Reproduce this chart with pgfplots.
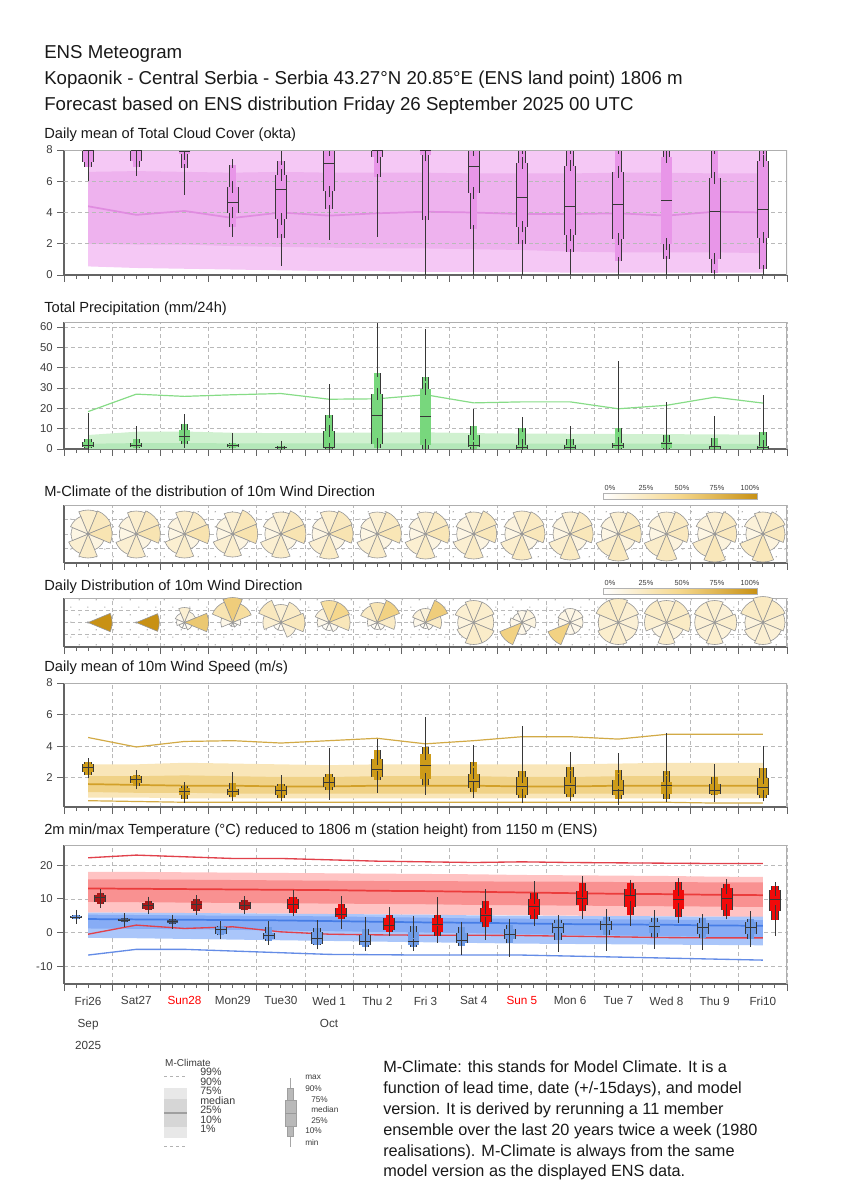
\documentclass[border=0pt]{standalone}
\usepackage{pgfplots}
\pgfplotsset{compat=1.18}
\usepackage{pgfplotstable}
\usetikzlibrary{patterns}
\usepackage{fontspec}
\setmainfont{Liberation Sans}

\definecolor{axgray}{RGB}{100,100,100}
\definecolor{framegray}{RGB}{175,175,175}
\definecolor{gridgray}{RGB}{185,185,185}
\definecolor{boxedge}{RGB}{55,55,55}
\definecolor{ticktxt}{RGB}{60,60,60}
\definecolor{txt}{RGB}{25,25,25}
\definecolor{dotgray}{RGB}{150,150,150}
\definecolor{rosedge}{RGB}{150,150,150}
\definecolor{cloudA}{RGB}{245,200,245}
\definecolor{cloudB}{RGB}{238,178,238}
\definecolor{cloudM}{RGB}{224,140,224}
\definecolor{cloudBox}{RGB}{232,150,232}
\definecolor{precA}{RGB}{208,241,208}
\definecolor{precB}{RGB}{180,232,185}
\definecolor{precL}{RGB}{135,220,135}
\definecolor{precBox}{RGB}{120,215,125}
\definecolor{windA}{RGB}{249,230,185}
\definecolor{windB}{RGB}{240,210,135}
\definecolor{windM}{RGB}{210,160,40}
\definecolor{windL}{RGB}{210,170,70}
\definecolor{windBox}{RGB}{205,155,25}
\definecolor{redA}{RGB}{255,195,195}
\definecolor{redB}{RGB}{249,145,145}
\definecolor{redM}{RGB}{235,60,60}
\definecolor{redL}{RGB}{225,65,75}
\definecolor{redBox}{RGB}{240,10,10}
\definecolor{redDark}{RGB}{170,25,25}
\definecolor{blueA}{RGB}{170,198,250}
\definecolor{blueB}{RGB}{135,172,245}
\definecolor{blueM}{RGB}{70,125,230}
\definecolor{blueL}{RGB}{100,140,230}
\definecolor{blueBox}{RGB}{110,155,230}
\definecolor{blueDark}{RGB}{65,85,125}
\definecolor{roseHi}{RGB}{200,145,20}
\definecolor{roseMid}{RGB}{245,215,140}

\pgfdeclareplotmark{empty}{}
\pgfdeclarepatternformonly{sparsedots}{\pgfqpoint{-1pt}{-1pt}}{\pgfqpoint{12pt}{10pt}}{\pgfqpoint{13pt}{11pt}}{%
  \pgfpathcircle{\pgfqpoint{2pt}{2pt}}{0.5pt}%
  \pgfpathcircle{\pgfqpoint{8.5pt}{7.5pt}}{0.5pt}%
  \pgfusepath{fill}}

\pgfplotsset{
  met/.style={
    scale only axis, width=542.25pt, anchor=south west,
    xmin=0, xmax=15, xtick={0,...,15}, xticklabels={}, minor x tick num=3,
    tick align=outside, tick pos=left,
    major tick length=5pt, minor tick length=3pt,
    tick style={draw=axgray, line width=0.7pt},
    axis x line*=bottom, axis y line*=left,
    axis line style={draw=axgray, line width=1.1pt},
    grid style={draw=gridgray, dash pattern=on 3pt off 2.2pt, line width=0.5pt},
    yticklabel style={font=\fontsize{8.5}{10}\selectfont, text=ticktxt},
    /pgf/number format/assume math mode=true,
  },
  rosepanel/.style={met, ymin=-1, ymax=1, ytick={-0.5,0,0.5}, yticklabels={},
    ytick style={draw=none}, xmajorgrids, ymajorgrids,
    axis background/.style={pattern=sparsedots, pattern color=dotgray},
    point meta min=0, point meta max=1},
}
\newcommand\frametr{\draw[framegray, line width=1.4pt] (rel axis cs:0,1) -- (rel axis cs:1,1) -- (rel axis cs:1,0);}

% ENS boxes drawn with error bars: #1 table, #2 fill, #3 x offset, #4 narrow width, #5 wide width (pt), #6 extra options
\newcommand\enbox[6]{%
  \addplot[only marks, mark=empty, #6, error bars/.cd, y dir=both, y explicit, error mark=none,
    error bar style={draw=boxedge, line width=0.55pt}]
    table[x expr=\coordindex+#3, y=med, y error plus expr=\thisrow{max}-\thisrow{med}, y error minus expr=\thisrow{med}-\thisrow{min}] {#1};
  \addplot[only marks, mark=empty, #6, error bars/.cd, y dir=both, y explicit, error mark=none,
    error bar style={draw=boxedge, line width=#4pt+0.55pt}]
    table[x expr=\coordindex+#3, y expr=0.5*\thisrow{q10}+0.5*\thisrow{q90}, y error expr=0.5*\thisrow{q90}-0.5*\thisrow{q10}] {#1};
  \addplot[only marks, mark=empty, #6, error bars/.cd, y dir=both, y explicit, error mark=-,
    error mark options={draw=boxedge, line width=0.55pt, mark size=#4pt/2+0.27pt},
    error bar style={draw=#2, line width=#4pt-0.55pt}]
    table[x expr=\coordindex+#3, y expr=0.5*\thisrow{q10}+0.5*\thisrow{q90}, y error expr=0.5*\thisrow{q90}-0.5*\thisrow{q10}] {#1};
  \addplot[only marks, mark=empty, #6, error bars/.cd, y dir=both, y explicit, error mark=none,
    error bar style={draw=boxedge, line width=#5pt+0.55pt}]
    table[x expr=\coordindex+#3, y expr=0.5*\thisrow{q25}+0.5*\thisrow{q75}, y error expr=0.5*\thisrow{q75}-0.5*\thisrow{q25}] {#1};
  \addplot[only marks, mark=empty, #6, error bars/.cd, y dir=both, y explicit, error mark=-,
    error mark options={draw=boxedge, line width=0.55pt, mark size=#5pt/2+0.27pt},
    error bar style={draw=#2, line width=#5pt-0.55pt}]
    table[x expr=\coordindex+#3, y expr=0.5*\thisrow{q25}+0.5*\thisrow{q75}, y error expr=0.5*\thisrow{q75}-0.5*\thisrow{q25}] {#1};
  \addplot[only marks, mark=-, mark size=#5pt/2, mark options={draw=boxedge, line width=0.55pt}, #6]
    table[x expr=\coordindex+#3, y=med] {#1};
}

% wind roses: one scatter plot per sector k (0=N,1=NE,...)
\newcommand\roses[1]{%
  \pgfplotsinvokeforeach{0,1,2,3,4,5,6,7}{%
    \addplot[scatter, only marks, mark=empty,
      point meta=\thisrow{f##1},
      visualization depends on={\thisrow{r##1} \as \rad},
      scatter/@pre marker code/.code={%
        \begingroup
        \pgfkeys{/pgf/fpu=false}%
        \pgfmathsetmacro\fv{\pgfplotspointmetatransformed/1000}%
        \pgfmathsetmacro\pa{min(100,100*\fv/0.3)}%
        \pgfmathsetmacro\pb{max(0,100*(\fv-0.3)/0.7)}%
        \pgfmathsetmacro\rr{\rad*0.75}%
        \colorlet{wedgetmp}{roseMid!\pa!white}%
        \colorlet{wedgecol}{roseHi!\pb!wedgetmp}%
        \filldraw[fill=wedgecol, draw=rosedge, line width=0.45pt]
          (0pt,0pt) -- ({67.5-45*##1}:\rr pt) arc[start angle={67.5-45*##1}, delta angle=45, radius=\rr pt] -- cycle;
        \endgroup},
      scatter/@post marker code/.code={}]
      table[x=x, y expr=0] {#1};
  }}

% ---------------- data ----------------
\pgfplotstableread{
min q10 q25 med q75 q90 max
6.0 6.9 7.25 7.95 8 8 8
6.35 6.9 7.3 7.95 8 8 8
5.15 6.85 7.75 7.9 8 8 8
2.45 3.05 4.0 4.65 5.65 7.05 7.4
0.55 2.4 3.6 5.45 6.4 7.3 8
2.25 4.25 5.35 7.15 8 8 8
2.45 6.25 7.55 7.95 8 8 8
0 3.55 7.65 7.95 8 8 8
0 2.95 5.25 6.95 8 8 8
0 2.0 3.1 4.95 7.15 8 8
0 1.45 2.55 4.4 7.0 8 8
0 0.9 2.3 4.55 6.6 8 8
0 1.0 2.0 4.75 7.55 8 8
0 0.1 1.05 4.05 6.2 8 8
0 0.4 2.4 4.2 7.3 8 8
}\cloudT

\pgfplotstableread{
x med
0.5 4.4
1.5 3.85
2.5 4.1
3.5 3.65
4.5 4.0
5.5 3.8
6.5 3.95
7.5 4.05
8.5 4.0
9.5 3.9
10.5 3.9
11.5 3.95
12.5 3.8
13.5 4.05
14.5 4.0
}\cloudC

\pgfplotstableread{
min q10 q25 med q75 q90 max
0 0.3 0.8 2.0 3.3 4.9 17.6
0 0.3 1.0 1.8 3.0 4.9 11.5
1.3 2.3 4.1 6.1 9.4 12.4 17.3
0 0.5 1.0 1.8 2.5 3.1 7.7
0 0.1 0.3 0.6 1.2 1.6 2.1
0 0 0.3 0.9 8.7 16.8 32.1
0 0.7 2.5 16.8 27.0 37.4 65
0 0 2.0 16.0 29.5 35.4 59.3
0 0.1 0.8 2.0 7.1 11.5 19.8
0 0 0.2 1.0 2.0 10.2 15.6
0 0 0.2 1.0 1.8 4.9 11.4
0 0 0.5 1.8 2.8 10.2 43.5
0 0 0.5 3.0 3.6 7.1 23.2
0 0 0.2 1.2 1.6 5.3 16.0
0 0 0.2 1.0 1.5 8.6 26.5
}\precT

\pgfplotstableread{
x p99
0.5 18.4
1.5 27.0
2.5 25.9
3.5 26.7
4.5 27.3
5.5 24.5
6.5 24.7
7.5 26.7
8.5 22.7
9.5 23.2
10.5 23.2
11.5 19.8
12.5 21.5
13.5 25.5
14.5 22.6
}\precC

\pgfplotstableread{
x r0 r1 r2 r3 r4 r5 r6 r7 f0 f1 f2 f3 f4 f5 f6 f7
0.5 24 25 24 17 24 21 17 19 .13 .17 .2 .08 .14 .12 .07 .09
1.5 23 25 24 16 24 22 17 19 .13 .17 .2 .08 .14 .12 .07 .09
2.5 23 24 25 16 24 21 16 18 .13 .16 .21 .08 .14 .12 .07 .09
3.5 22 26 25 17 23 21 16 18 .12 .18 .21 .08 .13 .12 .07 .09
4.5 22 25 25 17 24 22 16 19 .12 .17 .2 .08 .14 .12 .07 .09
5.5 23 25 24 17 25 22 17 18 .13 .17 .2 .08 .15 .12 .07 .09
6.5 22 24 24 16 24 22 17 18 .12 .16 .19 .08 .14 .12 .07 .09
7.5 22 24 24 17 25 22 16 18 .12 .16 .19 .08 .15 .12 .07 .09
8.5 22 25 23 17 25 22 17 19 .12 .17 .18 .08 .15 .12 .07 .09
9.5 23 24 23 17 26 23 17 19 .13 .16 .18 .08 .16 .13 .07 .09
10.5 22 24 23 18 26 23 17 19 .12 .16 .18 .09 .16 .13 .07 .09
11.5 22 24 23 18 27 24 17 19 .12 .16 .18 .09 .17 .14 .07 .09
12.5 22 24 22 18 27 24 17 20 .12 .16 .17 .09 .17 .14 .07 .1
13.5 22 24 22 18 28 24 17 20 .12 .16 .17 .09 .18 .14 .07 .1
14.5 22 24 22 18 28 25 17 20 .12 .16 .17 .09 .18 .15 .07 .1
}\mclimT

\pgfplotstableread{
x r0 r1 r2 r3 r4 r5 r6 r7 f0 f1 f2 f3 f4 f5 f6 f7
0.5 0.4 0.4 24 0.4 0.4 0.4 0.4 0.4 0 0 1 0 0 0 0 0
1.5 0.4 0.4 23 0.4 0.4 0.4 0.4 0.4 0 0 1 0 0 0 0 0
2.5 15 12 24 8 6 6 8 10 .12 .08 .45 .04 .02 .02 .03 .05
3.5 25 20 8 5 4 4 12 22 .4 .25 .04 .02 .02 .02 .06 .2
4.5 18 22 24 16 8 8 18 24 .12 .15 .18 .1 .03 .03 .12 .17
5.5 22 22 21 10 8 8 12 15 .25 .3 .18 .05 .03 .03 .06 .1
6.5 20 24 18 8 7 7 10 18 .2 .35 .15 .04 .03 .03 .05 .15
7.5 14 24 16 8 6 6 12 14 .1 .4 .15 .04 .03 .03 .06 .1
8.5 22 22 20 22 22 18 16 20 .13 .13 .12 .14 .14 .1 .09 .12
9.5 12 14 14 10 12 24 12 10 .06 .08 .08 .05 .06 .35 .06 .05
10.5 14 14 13 12 12 24 12 13 .07 .07 .07 .06 .06 .35 .06 .07
11.5 24 22 20 20 22 22 20 24 .15 .12 .11 .11 .13 .13 .11 .15
12.5 22 24 24 18 22 16 22 24 .13 .15 .15 .1 .13 .07 .12 .15
13.5 22 20 22 18 22 20 20 22 .13 .11 .13 .1 .13 .11 .11 .13
14.5 26 24 22 20 22 20 18 24 .16 .15 .12 .11 .12 .11 .09 .15
}\dailyT

\pgfplotstableread{
min q10 q25 med q75 q90 max
2.04 2.2 2.35 2.63 2.88 2.98 3.13
1.3 1.5 1.68 1.87 2.1 2.18 2.46
0.42 0.67 0.88 1.13 1.34 1.5 1.76
0.6 0.76 0.92 1.13 1.3 1.68 2.35
0.57 0.73 0.88 1.2 1.45 1.62 2.18
0.57 1.2 1.4 1.72 2.04 2.25 3.89
1.05 1.83 2.04 2.56 3.19 3.76 4.45
0.92 1.55 1.93 2.77 3.5 3.93 5.86
0.71 1.13 1.34 1.79 2.27 2.98 4.1
0.42 0.71 0.92 1.45 2.04 2.4 5.3
0.57 0.78 0.99 1.51 2.04 2.71 3.61
0.29 0.67 0.92 1.2 1.87 2.52 3.57
0.46 0.67 0.99 1.55 1.72 2.4 4.81
0.46 0.88 0.99 1.2 1.62 2.04 2.86
0.57 0.73 0.88 1.41 1.97 2.6 4.03
}\windT

\pgfplotstableread{
x p1 med p99
0.5 0.55 1.6 4.55
1.5 0.5 1.55 3.95
2.5 0.45 1.5 4.3
3.5 0.45 1.5 4.35
4.5 0.45 1.45 4.2
5.5 0.45 1.45 4.35
6.5 0.45 1.5 4.5
7.5 0.45 1.5 4.15
8.5 0.45 1.5 4.35
9.5 0.45 1.45 4.6
10.5 0.45 1.45 4.6
11.5 0.45 1.5 4.45
12.5 0.45 1.5 4.75
13.5 0.4 1.5 4.75
14.5 0.4 1.5 4.75
}\windC

\pgfplotstableread{
min q10 q25 med q75 q90 max
4.0 4.1 4.3 4.65 5.0 5.2 5.3
3.0 3.1 3.3 3.7 4.0 4.3 4.4
1.0 2.6 2.8 3.2 3.6 3.9 4.1
-2.0 -0.8 -0.3 1.0 1.6 2.0 2.7
-3.6 -2.6 -1.8 -0.8 0.0 1.7 3.4
-4.0 -3.8 -3.3 -1.8 0.2 1.2 3.7
-5.0 -4.3 -3.8 -2.6 -0.8 1.0 4.5
-5.0 -4.2 -3.8 -2.5 0.2 1.8 5.0
-6.8 -4.0 -3.0 -2.2 0.0 1.5 3.0
-7.3 -3.2 -1.8 -0.5 1.0 2.2 4.0
-5.9 -2.3 -0.1 1.4 2.7 3.7 5.1
-5.5 -0.8 0.7 2.4 3.4 4.7 7.1
-4.8 -1.3 0.0 1.7 3.2 4.4 6.6
-5.2 -1.6 -0.3 1.4 2.7 4.2 5.6
-4.3 -2.0 -0.3 1.4 3.0 4.0 6.3
}\tminT

\pgfplotstableread{
min q10 q25 med q75 q90 max
8.1 8.6 9.1 10.3 11.1 11.6 12.6
5.6 6.6 7.1 8.1 8.9 9.3 9.9
5.3 6.3 7.1 8.3 9.3 9.9 10.6
6.1 6.7 7.1 8.1 9.1 9.6 10.9
5.0 5.9 7.1 8.3 9.9 10.6 12.6
1.0 4.0 4.5 5.5 7.2 8.5 10.8
-1.0 0.2 0.7 2.0 4.2 5.2 7.5
-3.0 -1.0 0.2 2.5 4.2 5.2 10.5
-2.2 1.5 3.0 5.0 7.2 9.5 13.0
2.0 3.9 5.3 7.8 10.1 11.6 15.2
4.0 6.3 8.1 10.1 12.3 14.6 16.8
2.0 5.3 7.6 10.9 12.9 14.6 15.5
2.7 4.7 6.9 9.9 12.6 15.0 15.8
4.2 5.0 6.6 10.1 13.3 14.3 15.8
-1.0 3.7 6.3 9.9 12.6 13.9 15.0
}\tmaxT

\pgfplotstableread{
x p1 med p99
0.5 -0.5 13.1 22.2
1.5 2.2 13.0 23.0
2.5 1.2 12.9 22.5
3.5 1.7 12.8 22.0
4.5 0.2 12.7 22.0
5.5 -0.5 12.6 21.6
6.5 -0.7 12.4 21.2
7.5 -0.8 12.3 21.0
8.5 -0.8 12.1 20.8
9.5 -0.9 11.9 21.0
10.5 -1.1 11.7 20.8
11.5 -1.3 11.5 20.7
12.5 -1.5 11.4 20.6
13.5 -1.6 11.2 20.5
14.5 -1.6 11.1 20.5
}\tmaxC

\pgfplotstableread{
x p1 med
0.5 -6.7 4.0
1.5 -5.0 3.9
2.5 -5.0 3.8
3.5 -5.5 3.7
4.5 -6.0 3.6
5.5 -6.5 3.4
6.5 -6.6 3.2
7.5 -6.7 3.0
8.5 -6.7 2.9
9.5 -6.7 2.7
10.5 -7.0 2.5
11.5 -7.3 2.4
12.5 -7.6 2.3
13.5 -7.9 2.1
14.5 -8.2 2.0
}\tminC

\pgfplotstableread{
x y
0 2
15 2
}\hgA
\pgfplotstableread{
x y
0 4
15 4
}\hgB
\pgfplotstableread{
x y
0 6
15 6
}\hgC

\begin{document}
\begin{tikzpicture}
\path[use as bounding box] (0,0) rectangle (637.5pt,-897.75pt);

% titles
\begin{scope}[every node/.style={anchor=base west, inner sep=0pt, text=txt}]
\node[font=\fontsize{14}{17}\selectfont] at (33pt,-44pt) {ENS Meteogram};
\node[font=\fontsize{14}{17}\selectfont] at (33pt,-63pt) {Kopaonik - Central Serbia - Serbia 43.27°N 20.85°E (ENS land point) 1806 m};
\node[font=\fontsize{14}{17}\selectfont] at (33pt,-82.5pt) {Forecast based on ENS distribution Friday 26 September 2025 00 UTC};
\node[font=\fontsize{11}{13}\selectfont] at (33pt,-103.5pt) {Daily mean of Total Cloud Cover (okta)};
\node[font=\fontsize{11}{13}\selectfont] at (33pt,-234pt) {Total Precipitation (mm/24h)};
\node[font=\fontsize{11}{13}\selectfont] at (33pt,-372pt) {M-Climate of the distribution of 10m Wind Direction};
\node[font=\fontsize{11}{13}\selectfont] at (33pt,-442.5pt) {Daily Distribution of 10m Wind Direction};
\node[font=\fontsize{11}{13}\selectfont] at (33pt,-503.25pt) {Daily mean of 10m Wind Speed (m/s)};
\node[font=\fontsize{11}{13}\selectfont] at (33pt,-625.5pt) {2m min/max Temperature (°C) reduced to 1806 m (station height) from 1150 m (ENS)};
\end{scope}

% ---------- cloud cover ----------
\begin{axis}[met, at={(48pt,-206.25pt)}, height=93.75pt, ymin=0, ymax=8, ytick={0,2,4,6,8}]
\addplot[fill=cloudA, draw=none] coordinates {(0.5,8) (14.5,8) (14.5,0.15) (13.5,0.15) (12.5,0.15) (11.5,0.15) (10.5,0.15) (9.5,0.2) (8.5,0.2) (7.5,0.2) (6.5,0.25) (5.5,0.25) (4.5,0.3) (3.5,0.35) (2.5,0.4) (1.5,0.45) (0.5,0.55)};
\addplot[fill=cloudB, draw=none] coordinates {(0.5,6.6) (1.5,6.65) (2.5,6.6) (3.5,6.55) (4.5,6.6) (5.5,6.55) (6.5,6.55) (7.5,6.55) (8.5,6.5) (9.5,6.5) (10.5,6.5) (11.5,6.55) (12.5,6.55) (13.5,6.5) (14.5,6.5) (14.5,1.4) (13.5,1.45) (12.5,1.45) (11.5,1.45) (10.5,1.5) (9.5,1.6) (8.5,1.65) (7.5,1.7) (6.5,1.7) (5.5,1.75) (4.5,1.8) (3.5,1.85) (2.5,1.95) (1.5,1.95) (0.5,2.0)};
\addplot[gridgray, dash pattern=on 3pt off 2.2pt, line width=0.5pt] table {\hgA};
\addplot[gridgray, dash pattern=on 3pt off 2.2pt, line width=0.5pt] table {\hgB};
\addplot[gridgray, dash pattern=on 3pt off 2.2pt, line width=0.5pt] table {\hgC};
\addplot[cloudM, line width=1.3pt] table[x=x,y=med]{\cloudC};
\enbox{\cloudT}{cloudBox}{0.5}{4.9}{8.25}{}
\frametr
\end{axis}

% ---------- precipitation ----------
\begin{axis}[met, at={(48pt,-336.75pt)}, height=95.25pt, ymin=0, ymax=62.5, ytick={0,10,...,60}, xmajorgrids, ymajorgrids]
\addplot[fill=precA, draw=none] coordinates {(0.5,6.9) (1.5,8.5) (2.5,8.6) (3.5,8.0) (4.5,7.8) (5.5,8.0) (6.5,8.1) (7.5,8.2) (8.5,7.8) (9.5,7.6) (10.5,7.5) (11.5,7.4) (12.5,7.3) (13.5,7.2) (14.5,7.0) (14.5,0) (0.5,0)};
\addplot[fill=precB, draw=none] coordinates {(0.5,2.6) (1.5,2.9) (2.5,2.9) (3.5,2.8) (4.5,2.8) (5.5,2.8) (6.5,2.8) (7.5,2.8) (8.5,2.7) (9.5,2.7) (10.5,2.6) (11.5,2.6) (12.5,2.6) (13.5,2.5) (14.5,2.5) (14.5,0) (0.5,0)};
\addplot[precL, line width=0.9pt] table[x=x,y=p99]{\precC};
\enbox{\precT}{precBox}{0.5}{4.9}{8.25}{}
\frametr
\end{axis}

% ---------- wind direction, M-climate ----------
\begin{axis}[rosepanel, at={(48pt,-422.25pt)}, height=43.5pt]
\roses{\mclimT}
\frametr
\end{axis}

% ---------- wind direction, daily ----------
\begin{axis}[rosepanel, at={(48pt,-485.25pt)}, height=36.75pt]
\roses{\dailyT}
\frametr
\end{axis}

% colour bars of the wind roses
\foreach \yb/\yt in {493/488, 588/582.5}{
  \shade[left color=white, right color=roseHi, middle color=roseMid, draw=gray!60, line width=0.3pt]
    (603*0.75pt,-\yb*0.75pt) rectangle (757*0.75pt,-\yb*0.75pt-4.5pt);
  \foreach \xl/\lab in {610/0\%, 646/25\%, 682/50\%, 717/75\%, 750/100\%}{
    \node[font=\fontsize{5.5}{6}\selectfont, text=ticktxt, inner sep=0pt] at (\xl*0.75pt,-\yt*0.75pt) {\lab};
  }
}

% ---------- wind speed ----------
\begin{axis}[met, at={(48pt,-605.25pt)}, height=93pt, ymin=0.15, ymax=8, ytick={2,4,6,8}, xmajorgrids, ymajorgrids]
\addplot[fill=windA, draw=none] coordinates {(0.5,2.85) (1.5,2.85) (2.5,2.95) (3.5,2.9) (4.5,2.85) (5.5,2.8) (6.5,2.85) (7.5,2.85) (8.5,2.85) (9.5,2.85) (10.5,2.85) (11.5,2.9) (12.5,2.95) (13.5,2.95) (14.5,2.95) (14.5,0.7) (13.5,0.7) (12.5,0.7) (11.5,0.7) (10.5,0.7) (9.5,0.7) (8.5,0.7) (7.5,0.7) (6.5,0.7) (5.5,0.7) (4.5,0.7) (3.5,0.7) (2.5,0.7) (1.5,0.75) (0.5,0.75)};
\addplot[fill=windB, draw=none] coordinates {(0.5,2.1) (1.5,2.1) (2.5,2.15) (3.5,2.1) (4.5,2.05) (5.5,2.05) (6.5,2.1) (7.5,2.1) (8.5,2.1) (9.5,2.05) (10.5,2.05) (11.5,2.1) (12.5,2.1) (13.5,2.1) (14.5,2.1) (14.5,1.0) (13.5,1.0) (12.5,1.0) (11.5,1.0) (10.5,1.0) (9.5,1.0) (8.5,1.0) (7.5,1.0) (6.5,1.0) (5.5,1.0) (4.5,1.0) (3.5,1.0) (2.5,1.05) (1.5,1.05) (0.5,1.1)};
\addplot[windM, line width=1.3pt] table[x=x,y=med]{\windC};
\addplot[windL, line width=0.9pt] table[x=x,y=p99]{\windC};
\addplot[windL, line width=0.9pt] table[x=x,y=p1]{\windC};
\enbox{\windT}{windBox}{0.5}{4.9}{8.25}{}
\frametr
\end{axis}

% ---------- temperature ----------
\begin{axis}[met, at={(48pt,-738pt)}, height=104.25pt, ymin=-15.3, ymax=26, ytick={-10,0,10,20}, xmajorgrids, ymajorgrids,
  extra x ticks={0.5,1.5,...,14.5},
  extra x tick labels={{Fri26\\Sep\\2025},{Sat27},{\textcolor{red}{Sun28}},{Mon29},{Tue30},{Wed 1\\Oct},{Thu 2},{Fri 3},{Sat 4},{\textcolor{red}{Sun 5}},{Mon 6},{Tue 7},{Wed 8},{Thu 9},{Fri10}},
  extra x tick style={major tick length=0pt, grid=none, tick label style={font=\fontsize{8.8}{16.5}\selectfont, text=ticktxt, align=center, anchor=north, yshift=-6pt}}]
\addplot[fill=redA, draw=none] coordinates {(0.5,18.0) (1.5,18.0) (2.5,17.9) (3.5,17.8) (4.5,17.7) (5.5,17.6) (6.5,17.5) (7.5,17.4) (8.5,17.3) (9.5,17.1) (10.5,17.0) (11.5,16.9) (12.5,16.8) (13.5,16.6) (14.5,16.5) (14.5,4.6) (13.5,4.7) (12.5,4.8) (11.5,4.9) (10.5,5.0) (9.5,5.1) (8.5,5.2) (7.5,5.3) (6.5,5.4) (5.5,5.5) (4.5,5.6) (3.5,5.7) (2.5,5.8) (1.5,5.9) (0.5,5.9)};
\addplot[fill=redB, draw=none] coordinates {(0.5,15.8) (1.5,15.8) (2.5,15.7) (3.5,15.6) (4.5,15.5) (5.5,15.4) (6.5,15.3) (7.5,15.3) (8.5,15.2) (9.5,15.1) (10.5,15.1) (11.5,15.0) (12.5,15.0) (13.5,14.9) (14.5,14.9) (14.5,7.6) (13.5,7.7) (12.5,7.8) (11.5,7.9) (10.5,8.0) (9.5,8.1) (8.5,8.2) (7.5,8.4) (6.5,8.5) (5.5,8.6) (4.5,8.7) (3.5,8.8) (2.5,8.9) (1.5,9.0) (0.5,9.1)};
\addplot[fill=blueA, draw=none] coordinates {(0.5,5.9) (1.5,5.9) (2.5,5.8) (3.5,5.7) (4.5,5.6) (5.5,5.5) (6.5,5.4) (7.5,5.3) (8.5,5.1) (9.5,5.0) (10.5,4.9) (11.5,4.9) (12.5,4.8) (13.5,4.7) (14.5,4.7) (14.5,-3.8) (13.5,-3.7) (12.5,-3.6) (11.5,-3.5) (10.5,-3.4) (9.5,-3.3) (8.5,-3.1) (7.5,-2.9) (6.5,-2.7) (5.5,-2.5) (4.5,-2.3) (3.5,-2.1) (2.5,-1.9) (1.5,-1.7) (0.5,-1.6)};
\addplot[fill=blueB, draw=none] coordinates {(0.5,5.3) (1.5,5.2) (2.5,5.1) (3.5,5.0) (4.5,4.9) (5.5,4.8) (6.5,4.6) (7.5,4.4) (8.5,4.2) (9.5,4.1) (10.5,4.0) (11.5,3.9) (12.5,3.8) (13.5,3.7) (14.5,3.7) (14.5,-1.5) (13.5,-1.3) (12.5,-1.1) (11.5,-0.9) (10.5,-0.7) (9.5,-0.5) (8.5,-0.2) (7.5,0.0) (6.5,0.2) (5.5,0.4) (4.5,0.6) (3.5,0.8) (2.5,1.0) (1.5,1.1) (0.5,1.2)};
\addplot[redM, line width=1.3pt] table[x=x,y=med]{\tmaxC};
\addplot[blueM, line width=1.3pt] table[x=x,y=med]{\tminC};
\addplot[redL, line width=1pt] table[x=x,y=p99]{\tmaxC};
\addplot[redL, line width=1pt] table[x=x,y=p1]{\tmaxC};
\addplot[blueL, line width=1pt] table[x=x,y=p1]{\tminC};
\enbox{\tminT}{blueBox}{0.25}{4.9}{8.25}{skip coords between index={1}{15}}
\enbox{\tminT}{blueDark}{0.25}{4.9}{8.25}{skip coords between index={3}{15}, skip coords between index={0}{1}}
\enbox{\tminT}{blueBox}{0.25}{4.9}{8.25}{skip coords between index={0}{3}}
\enbox{\tmaxT}{redDark}{0.75}{4.9}{8.25}{skip coords between index={4}{15}}
\enbox{\tmaxT}{redBox}{0.75}{4.9}{8.25}{skip coords between index={0}{4}}
\frametr
\end{axis}

% ---------- legend: M-Climate ----------
\node[font=\fontsize{7.5}{8}\selectfont, text=ticktxt] at (188*0.75pt,-1063*0.75pt) {M-Climate};
\fill[gray!18] (164*0.75pt,-1088*0.75pt) rectangle (187*0.75pt,-1138*0.75pt);
\fill[gray!32] (164*0.75pt,-1099*0.75pt) rectangle (187*0.75pt,-1127*0.75pt);
\draw[gray!75, line width=1.2pt] (164*0.75pt,-1113*0.75pt) -- (187*0.75pt,-1113*0.75pt);
\draw[gray!60, dash pattern=on 2.5pt off 2pt, line width=0.6pt] (164*0.75pt,-1076*0.75pt) -- (187*0.75pt,-1076*0.75pt);
\draw[gray!60, dash pattern=on 2.5pt off 2pt, line width=0.6pt] (164*0.75pt,-1146*0.75pt) -- (187*0.75pt,-1146*0.75pt);
\foreach \yy/\lab in {1072/99\%, 1081.5/90\%, 1091/75\%, 1100.5/median, 1110/25\%, 1119.5/10\%, 1129/1\%}{
  \node[anchor=west, font=\fontsize{8}{8}\selectfont, text=ticktxt, inner sep=0pt] at (200*0.75pt,-\yy*0.75pt) {\lab};
}
% ---------- legend: ENS box ----------
\draw[gray!70, line width=0.6pt] (290*0.75pt,-1078*0.75pt) -- (290*0.75pt,-1147*0.75pt);
\filldraw[fill=gray!55, draw=gray!75, line width=0.5pt] (287*0.75pt,-1088*0.75pt) rectangle (293*0.75pt,-1136*0.75pt);
\filldraw[fill=gray!55, draw=gray!75, line width=0.5pt] (285*0.75pt,-1100*0.75pt) rectangle (296*0.75pt,-1126*0.75pt);
\draw[gray!80, line width=0.5pt] (285*0.75pt,-1113*0.75pt) -- (296*0.75pt,-1113*0.75pt);
\foreach \xx/\yy/\lab in {305/1077/max, 305/1089/90\%, 311/1099.5/75\%, 311/1110/median, 311/1120.5/25\%, 305/1131/10\%, 305/1142/min}{
  \node[anchor=west, font=\fontsize{6.2}{7}\selectfont, text=ticktxt, inner sep=0pt] at (\xx*0.75pt,-\yy*0.75pt) {\lab};
}
% ---------- explanation ----------
\begin{scope}[every node/.style={anchor=base west, inner sep=0pt, text=txt, font=\fontsize{12.2}{14}\selectfont}]
\node at (383*0.75pt,-1072*0.75pt) {M-Climate: this stands for Model Climate. It is a};
\node at (383*0.75pt,-1093*0.75pt) {function of lead time, date (+/-15days), and model};
\node at (383*0.75pt,-1114*0.75pt) {version. It is derived by rerunning a 11 member};
\node at (383*0.75pt,-1135*0.75pt) {ensemble over the last 20 years twice a week (1980};
\node at (383*0.75pt,-1156*0.75pt) {realisations). M-Climate is always from the same};
\node at (383*0.75pt,-1176*0.75pt) {model version as the displayed ENS data.};
\end{scope}
\end{tikzpicture}
\end{document}
